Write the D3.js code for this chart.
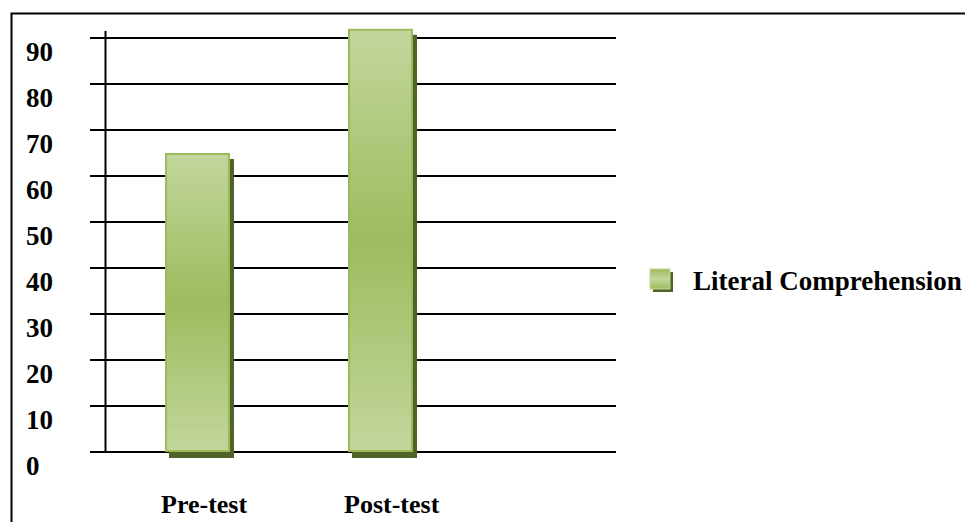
<!DOCTYPE html>
<html>
<head>
<meta charset="utf-8">
<script src="https://cdn.jsdelivr.net/npm/d3@7"></script>
<style>
  body { margin: 0; background: #fff; }
  svg { display: block; }
  text { font-family: "Liberation Serif", "Times New Roman", serif; font-weight: bold; fill: #000; }
</style>
</head>
<body>
<svg width="965" height="522"></svg>
<script>
const categories = ["Pre-test", "Post-test"];
const values = [65, 92];
const yTicks = [0, 10, 20, 30, 40, 50, 60, 70, 80, 90];
const seriesName = "Literal Comprehension";

const svg = d3.select("svg");

// outer frame (runs off the right and bottom edges)
svg.append("rect")
  .attr("x", 11.5).attr("y", 13.5)
  .attr("width", 1000).attr("height", 600)
  .attr("fill", "none").attr("stroke", "#000").attr("stroke-width", 2);

const defs = svg.append("defs");
const grad = defs.append("linearGradient")
  .attr("id", "barGrad").attr("x1", 0).attr("y1", 0).attr("x2", 0).attr("y2", 1);
grad.append("stop").attr("offset", "0%").attr("stop-color", "#c3d69c");
grad.append("stop").attr("offset", "50%").attr("stop-color", "#9dbc5e");
grad.append("stop").attr("offset", "100%").attr("stop-color", "#c3d69c");

const legGrad = defs.append("linearGradient")
  .attr("id", "legGrad").attr("x1", 0).attr("y1", 0).attr("x2", 0).attr("y2", 1);
legGrad.append("stop").attr("offset", "0%").attr("stop-color", "#9dbc5e");
legGrad.append("stop").attr("offset", "50%").attr("stop-color", "#c3d69c");
legGrad.append("stop").attr("offset", "100%").attr("stop-color", "#9dbc5e");

// y scale
const y = d3.scaleLinear().domain([0, 90]).range([452, 38]);

// x scale
const x = d3.scaleBand()
  .domain(categories)
  .range([105, 473])
  .paddingInner(0.645)
  .paddingOuter(0.328);

// gridlines
svg.append("g").selectAll("line").data(yTicks).enter().append("line")
  .attr("x1", 90).attr("x2", 616)
  .attr("y1", d => y(d)).attr("y2", d => y(d))
  .attr("stroke", "#000").attr("stroke-width", 2);

// vertical axis line
svg.append("line")
  .attr("x1", 105.5).attr("x2", 105.5)
  .attr("y1", 31).attr("y2", y(0))
  .attr("stroke", "#000").attr("stroke-width", 2);

// y tick labels
svg.append("g").selectAll("text").data(yTicks).enter().append("text")
  .attr("x", 26)
  .attr("y", d => y(d) + 23)
  .attr("font-size", "27px")
  .text(d => d);

// bar shadows
svg.append("g").selectAll("rect").data(values).enter().append("rect")
  .attr("x", (d, i) => x(categories[i]) + 4)
  .attr("y", d => y(d) + 6)
  .attr("width", x.bandwidth())
  .attr("height", d => y(0) - y(d))
  .attr("fill", "#4f6228");

// bars
svg.append("g").selectAll("rect").data(values).enter().append("rect")
  .attr("x", (d, i) => x(categories[i]) + 1)
  .attr("y", d => y(d) + 1)
  .attr("width", x.bandwidth() - 2)
  .attr("height", d => y(0) - y(d) - 2)
  .attr("fill", "url(#barGrad)")
  .attr("stroke", "#9bbb59")
  .attr("stroke-width", 2);

// category labels
svg.append("g").selectAll("text").data(categories).enter().append("text")
  .attr("x", d => x(d) - 4)
  .attr("y", 513)
  .attr("font-size", "26px")
  .text(d => d);

// legend
const leg = svg.append("g");
leg.append("rect")
  .attr("x", 653).attr("y", 272).attr("width", 20).attr("height", 20)
  .attr("fill", "#4f6228");
leg.append("rect")
  .attr("x", 650).attr("y", 269).attr("width", 20).attr("height", 20)
  .attr("fill", "url(#legGrad)").attr("stroke", "#c3d69c").attr("stroke-width", 1);
leg.append("text")
  .attr("x", 693).attr("y", 290)
  .attr("font-size", "27px")
  .text(seriesName);
</script>
</body>
</html>
